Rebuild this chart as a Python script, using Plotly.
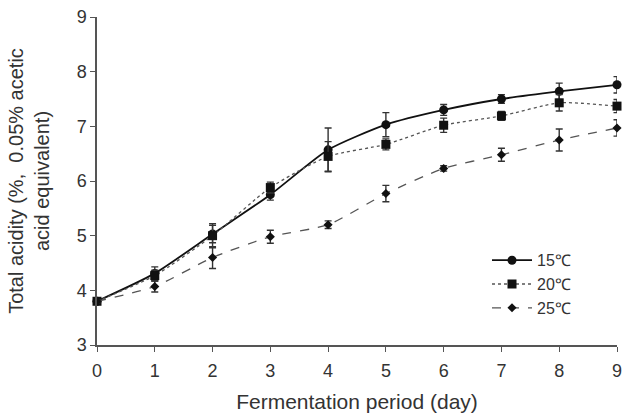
import plotly.graph_objects as go

days = [0, 1, 2, 3, 4, 5, 6, 7, 8, 9]
t15 = [3.80, 4.31, 5.03, 5.75, 6.57, 7.03, 7.30, 7.50, 7.64, 7.76]
e15 = [0.03, 0.12, 0.16, 0.10, 0.40, 0.22, 0.10, 0.08, 0.15, 0.15]
t20 = [3.80, 4.27, 5.00, 5.88, 6.45, 6.67, 7.02, 7.19, 7.43, 7.37]
e20 = [0.03, 0.10, 0.22, 0.10, 0.27, 0.10, 0.13, 0.08, 0.15, 0.12]
t25 = [3.80, 4.07, 4.60, 4.98, 5.20, 5.77, 6.23, 6.48, 6.75, 6.97]
e25 = [0.03, 0.10, 0.20, 0.12, 0.07, 0.15, 0.05, 0.12, 0.20, 0.15]
labels = ["15℃", "20℃", "25℃"]

font = "Liberation Sans, Arial, sans-serif"
fig = go.Figure()
specs = [
    (t15, e15, labels[0], "solid", "circle", 9, "#111", 1.8),
    (t20, e20, labels[1], "dot", "square", 9, "#555", 1.3),
    (t25, e25, labels[2], "dash", "diamond", 7, "#555", 1.3),
]
for y, e, name, dash, sym, ms, col, lw in specs:
    fig.add_trace(go.Scatter(
        x=days, y=y, name=name, mode="lines+markers",
        line=dict(color=col, dash=dash, width=lw, shape="spline", smoothing=0.6),
        marker=dict(symbol=sym, size=ms, color="#111"),
        error_y=dict(type="data", array=e, visible=True, color="#333", thickness=1.4, width=3.5),
    ))

fig.update_layout(
    width=635, height=418,
    margin=dict(l=97, r=18, t=17, b=73, autoexpand=False),
    paper_bgcolor="white", plot_bgcolor="white",
    font=dict(family=font, size=18, color="#333"),
    showlegend=True,
    legend=dict(x=0.75, y=0.31, xanchor="left", yanchor="top",
                bgcolor="rgba(0,0,0,0)", font=dict(size=16, color="#333"),
                tracegroupgap=0, itemwidth=40),
    xaxis=dict(range=[0, 9], tickvals=days, showline=True, linecolor="#555", linewidth=1.5,
               ticks="outside", ticklen=5, tickcolor="#555", showgrid=False, zeroline=False,
               tickfont=dict(size=18), ticklabelstandoff=4,
               title=dict(text="Fermentation period (day)", font=dict(size=21), standoff=14)),
    yaxis=dict(range=[3, 9], dtick=1, showline=True, linecolor="#555", linewidth=1.5,
               ticks="outside", ticklen=5, tickcolor="#555", showgrid=False, zeroline=False,
               tickfont=dict(size=18),
               title=dict(text="Total acidity (%,  0.05% acetic<br>acid equivalent)", font=dict(size=20), standoff=22)),
)
fig.update_traces(cliponaxis=False)
fig.write_html("out.html")
